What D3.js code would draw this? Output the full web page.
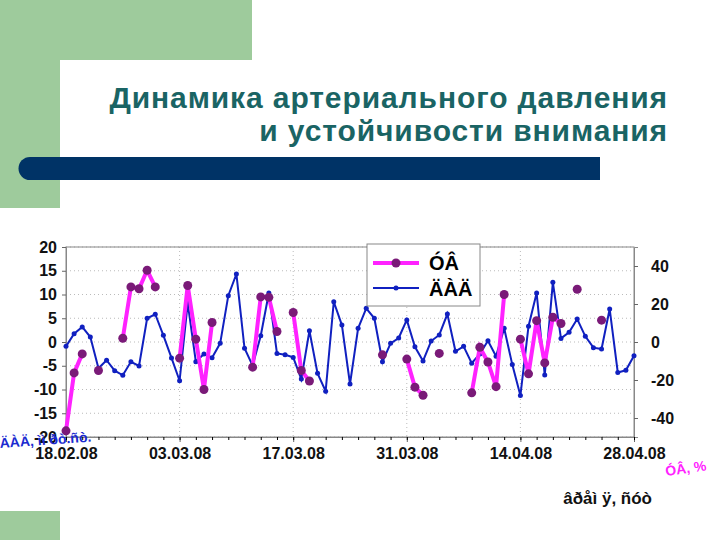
<!DOCTYPE html>
<html><head><meta charset="utf-8">
<script src="https://cdn.jsdelivr.net/npm/d3@7"></script>
<style>body{margin:0;background:#fff}</style>
</head><body>
<div id="chart"></div>
<script>
const dateLabels = ['18.02.08', '03.03.08', '17.03.08', '31.03.08', '14.04.08', '28.04.08'];
const leftTicks = [20, 15, 10, 5, 0, -5, -10, -15, -20];
const rightTicks = [40, 20, 0, -20, -40];
// blue series (right axis), one value per day from 18.02.08
const dad = [-2.3, 4.4, 7.9, 2.6, -13.8, -9.6, -15.1, -17.5, -10.4, -12.6, 12.5, 14.6, 3.5, -8.4, -20.4, 20.5,
  -10.4, -6.3, -8.3, -0.7, 24.4, 35.8, -3.3, -12.4, 3.3, 25.8, -6, -6.7, -8.1, -19.5, 5.9, -16.5, -25.9, 21.2,
  8.9, -22.1, 7.2, 17.7, 12.5, -10.4, -0.7, 2.1, 11.6, -2.5, -10, 0.5, 3.7, 14.7, -4.9, -2.3, -11.2, -6.3, 0.7,
  -7.5, 7.2, -11.9, -28.2, 8.3, 25.8, -17.4, 31.4, 1.9, 5.1, 12.1, 3, -3, -3.7, 17.4, -16, -14.9, -7.2];
// magenta series (left axis), gaps are null
const ub = [-18.7, -6.5, -2.5, null, -6, null, null, 0.8, 11.6, 11.2, 15.1, 11.6, null, null, -3.4,
  11.9, 0.6, -10, 4.1, null, null, null, null, -5.3, 9.5, 9.4, 2.2, null, 6.2, -6, -8.2, null, null,
  null, null, null, null, null, null, -2.7, null, null, -3.6, -9.5, -11.2, null, -2.4, null, null, null,
  -10.7, -1.1, -4.2, -9.4, 10, null, 0.6, -6.7, 4.5, -4.4, 5.2, 3.9, null, 11.1, null, null, 4.6,
  null, null, null, null];

const svg = d3.select('#chart').append('svg').attr('width', 720).attr('height', 540)
  .style('font-family', 'Liberation Sans, Arial, sans-serif');

// slide decoration
svg.append('rect').attr('x', 0).attr('y', 0).attr('width', 252).attr('height', 60).attr('fill', '#9ecb9c');
svg.append('rect').attr('x', 0).attr('y', 0).attr('width', 60).attr('height', 208).attr('fill', '#9ecb9c');
svg.append('path').attr('d', 'M60,208 L60,80 Q60,60 80,60 L252,60 L252,208 Z').attr('fill', '#fff');
svg.append('rect').attr('x', 0).attr('y', 511).attr('width', 60).attr('height', 29).attr('fill', '#9ecb9c');
svg.append('path').attr('d', 'M30,157 L600,157 L600,180 L30,180 A11.5,11.5 0 0 1 30,157 Z').attr('fill', '#003366');

svg.append('text').attr('x', 668).attr('y', 108).attr('text-anchor', 'end')
  .attr('font-size', 30).attr('font-weight', 'bold').attr('fill', '#1a6464').attr('letter-spacing', 0.9)
  .text('Динамика артериального давления');
svg.append('text').attr('x', 668).attr('y', 141).attr('text-anchor', 'end')
  .attr('font-size', 30).attr('font-weight', 'bold').attr('fill', '#1a6464').attr('letter-spacing', 0.9)
  .text('и устойчивости внимания');

const x0 = 66, x1 = 634, yTop = 247, yBot = 437;
const x = d3.scaleLinear().domain([0, 70]).range([x0, x1]);
const yL = d3.scaleLinear().domain([-20, 20]).range([yBot, yTop]);
const yR = d3.scaleLinear().domain([-50, 50]).range([yBot, yTop]);

// grid
svg.append('g').selectAll('line').data(leftTicks).join('line')
  .attr('x1', x0).attr('x2', x1).attr('y1', d => yL(d)).attr('y2', d => yL(d))
  .attr('stroke', '#bbb').attr('stroke-dasharray', '1,3');
svg.append('g').selectAll('line').data(d3.range(14, 70, 14)).join('line')
  .attr('x1', d => x(d)).attr('x2', d => x(d)).attr('y1', yTop).attr('y2', yBot)
  .attr('stroke', '#bbb').attr('stroke-dasharray', '1,3');
svg.append('rect').attr('x', x0).attr('y', yTop).attr('width', x1 - x0).attr('height', yBot - yTop)
  .attr('fill', 'none').attr('stroke', '#888');

// axes
const axL = svg.append('g').attr('transform', `translate(${x0},0)`)
  .call(d3.axisLeft(yL).tickValues(leftTicks).tickSize(4).tickFormat(d => d));
const axR = svg.append('g').attr('transform', `translate(${x1},0)`)
  .call(d3.axisRight(yR).tickValues(rightTicks).tickSize(4).tickFormat(d => d));
const axB = svg.append('g').attr('transform', `translate(0,${yBot})`)
  .call(d3.axisBottom(x).tickValues(d3.range(0, 71, 14)).tickSize(5).tickFormat((d, i) => dateLabels[i]));
svg.append('g').attr('transform', `translate(0,${yBot})`)
  .call(d3.axisBottom(x).tickValues(d3.range(0, 71, 2)).tickSize(3).tickFormat(''))
  .call(g => g.select('.domain').remove());
[axL, axR, axB].forEach(g => {
  g.select('.domain').attr('stroke', '#888');
  g.selectAll('line').attr('stroke', '#666');
  g.selectAll('text').attr('font-size', 16).attr('font-weight', 'bold').attr('fill', '#111')
    .attr('font-family', 'Liberation Sans, Arial, sans-serif');
});
axL.selectAll('text').attr('dx', -2);
axR.selectAll('text').attr('dx', 10);
axB.selectAll('text').attr('dy', 14);

// blue line
const lineR = d3.line().x((d, i) => x(i)).y(d => yR(d));
svg.append('path').datum(dad).attr('d', lineR).attr('fill', 'none').attr('stroke', '#1020c0').attr('stroke-width', 2);
svg.append('g').selectAll('circle').data(dad).join('circle')
  .attr('cx', (d, i) => x(i)).attr('cy', d => yR(d)).attr('r', 2.5).attr('fill', '#1020c0');

// magenta line
const lineL = d3.line().defined(d => d !== null).x((d, i) => x(i)).y(d => yL(d));
svg.append('path').datum(ub).attr('d', lineL).attr('fill', 'none').attr('stroke', '#ff22ff').attr('stroke-width', 4);
svg.append('g').selectAll('circle').data(ub.map((v, i) => [i, v]).filter(d => d[1] !== null)).join('circle')
  .attr('cx', d => x(d[0])).attr('cy', d => yL(d[1])).attr('r', 4.5).attr('fill', '#7a1a78');

// legend
const lg = svg.append('g').attr('transform', 'translate(367,244)');
lg.append('rect').attr('width', 113).attr('height', 62).attr('fill', '#fff').attr('stroke', '#888');
lg.append('line').attr('x1', 6).attr('x2', 52).attr('y1', 19).attr('y2', 19).attr('stroke', '#ff22ff').attr('stroke-width', 4);
lg.append('circle').attr('cx', 29).attr('cy', 19).attr('r', 4.5).attr('fill', '#7a1a78');
lg.append('line').attr('x1', 6).attr('x2', 52).attr('y1', 44).attr('y2', 44).attr('stroke', '#1020c0').attr('stroke-width', 2);
lg.append('circle').attr('cx', 29).attr('cy', 44).attr('r', 2.5).attr('fill', '#1020c0');
lg.append('text').attr('x', 62).attr('y', 26).attr('font-size', 20).attr('font-weight', 'bold').text('ÓÂ');
lg.append('text').attr('x', 62).attr('y', 52).attr('font-size', 20).attr('font-weight', 'bold').text('ÄÀÄ');

// axis titles (garbled in original)
svg.append('text').attr('x', 0).attr('y', 448).attr('font-size', 14).attr('font-weight', 'bold')
  .attr('fill', '#1a2ad0').attr('transform', 'rotate(-4,0,448)').text('ÄÀÄ, ìì ðò.ñò.');
svg.append('text').attr('x', 666).attr('y', 476).attr('font-size', 14).attr('font-weight', 'bold')
  .attr('fill', '#ff22ff').attr('transform', 'rotate(-8,666,476)').text('ÓÂ, %');
svg.append('text').attr('x', 652).attr('y', 504).attr('text-anchor', 'end').attr('font-size', 17)
  .attr('font-weight', 'bold').attr('fill', '#111').text('âðåì ÿ, ñóò');
</script>
</body></html>
